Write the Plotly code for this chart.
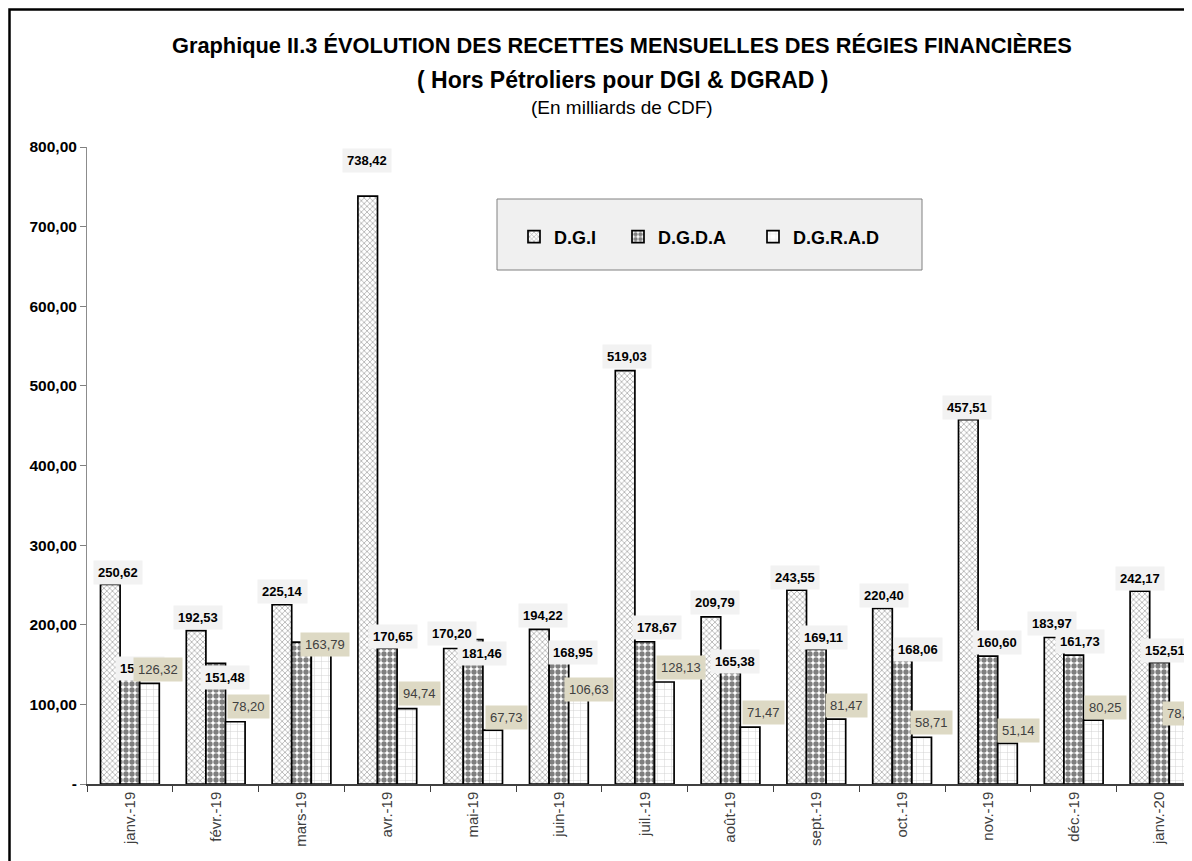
import plotly.graph_objects as go

# ---------------- data ----------------
months = ["janv.-19", "févr.-19", "mars-19", "avr.-19", "mai-19", "juin-19", "juil.-19",
          "août-19", "sept.-19", "oct.-19", "nov.-19", "déc.-19", "janv.-20"]
dgi = [250.62, 192.53, 225.14, 738.42, 170.20, 194.22, 519.03, 209.79, 243.55, 220.40, 457.51, 183.97, 242.17]
dgda = [153.40, 151.48, 178.20, 170.65, 181.46, 168.95, 178.67, 165.38, 169.11, 168.06, 160.60, 161.73, 152.51]
dgrad = [126.32, 78.20, 163.79, 94.74, 67.73, 106.63, 128.13, 71.47, 81.47, 58.71, 51.14, 80.25, 78.42]
series_names = ["D.G.I", "D.G.D.A", "D.G.R.A.D"]
dgda_label_visible = [True, True, False, True, True, True, True, True, True, True, True, True, True]
y_tickvals = [0, 100, 200, 300, 400, 500, 600, 700, 800]
y_ticktext = ["-", "100,00", "200,00", "300,00", "400,00", "500,00", "600,00", "700,00", "800,00"]

# ---------------- label placement (pixel offsets dx, dy-up) ----------------
dgi_off = [(8, 12), (2, 13), (1, 13), (-1, 36), (-2, 15), (4, 14), (2, 14), (4, 14), (-2, 13), (1, 13), (-1, 12), (-2, 14), (0, 13)]
dgda_off = [(10, -7), (9, -14), (0, 0), (6, 12), (9, -14), (14, -3), (12, 14), (4, -9), (7, 12), (16, 1), (9, 14), (6, 14), (5, 12)]
dgrad_off = [(9, 14), (13, 15), (4, 9), (13, 15), (14, 13), (11, 10), (17, 14), (13, 15), (11, 14), (10, 15), (11, 13), (12, 13), (4, 8)]

SANS = "Liberation Sans, Arial, sans-serif"

# page offset of the figure inside the browser window (body margin)
OFF = 8
W, H = 1192 - OFF, 861 - OFF
L, T = 87 - OFF, 147 - OFF
PLOT_BOTTOM = 784 - OFF
R, B = 0, H - PLOT_BOTTOM
PW, PH = W - L - R, PLOT_BOTTOM - T


def px_x(px):  # reference page pixel -> paper x
    return (px - OFF - L) / PW


def px_y(py):  # reference page pixel -> paper y
    return (PLOT_BOTTOM - (py - OFF)) / PH


BARGAP = 0.315
BW = (1 - BARGAP) / 3
CAT_PX = 85.8
X_END = -0.5 + (1192 - 87) / CAT_PX


def fmt(v):
    return f"{v:.2f}".replace(".", ",")


fig = go.Figure()
styles = [
    dict(shape="x", fgcolor="#555555", bgcolor="#ffffff", size=4, solidity=0.35),
    dict(shape=".", fgcolor="#000000", bgcolor="#ffffff", size=6, solidity=0.62),
    dict(shape="+", fgcolor="#9a9a9a", bgcolor="#ffffff", size=7, solidity=0.12),
]
legend_ids = ["legend", "legend2", "legend3"]
for vals, name, st, lg in zip([dgi, dgda, dgrad], series_names, styles, legend_ids):
    fig.add_trace(go.Bar(
        x=months, y=vals, name=name, legend=lg,
        marker=dict(color="#ffffff", line=dict(color="#000000", width=1.7), pattern=st),
        hoverinfo="x+y+name",
    ))

LBL = 13
annotations = []
for i, v in enumerate(dgi):
    dx, dy = dgi_off[i]
    annotations.append(dict(x=i - BW, y=v, xref="x", yref="y", text=fmt(v), showarrow=False,
                            xshift=dx, yshift=dy, xanchor="center", yanchor="middle",
                            bgcolor="#f2f2f2", borderpad=4,
                            font=dict(family=SANS, size=LBL, color="#000000", weight="bold")))
for i, v in enumerate(dgda):
    if not dgda_label_visible[i]:
        continue
    dx, dy = dgda_off[i]
    annotations.append(dict(x=i, y=v, xref="x", yref="y", text=fmt(v), showarrow=False,
                            xshift=dx, yshift=dy, xanchor="center", yanchor="middle",
                            bgcolor="#f2f2f2", borderpad=4,
                            font=dict(family=SANS, size=LBL, color="#000000", weight="bold")))
for i, v in enumerate(dgrad):
    dx, dy = dgrad_off[i]
    annotations.append(dict(x=i + BW, y=v, xref="x", yref="y", text=fmt(v), showarrow=False,
                            xshift=dx, yshift=dy, xanchor="center", yanchor="middle",
                            bgcolor="#ddd9c4", borderpad=4,
                            font=dict(family=SANS, size=LBL, color="#404040")))

# title lines
TITLE_CX = 622
annotations += [
    dict(x=px_x(TITLE_CX), y=px_y(45), xref="paper", yref="paper", showarrow=False,
         xanchor="center", yanchor="middle",
         text="Graphique II.3 ÉVOLUTION DES RECETTES MENSUELLES DES RÉGIES FINANCIÈRES",
         font=dict(family=SANS, size=21.8, color="#000000", weight="bold")),
    dict(x=px_x(TITLE_CX), y=px_y(80), xref="paper", yref="paper", showarrow=False,
         xanchor="center", yanchor="middle",
         text="( Hors Pétroliers pour DGI & DGRAD )",
         font=dict(family=SANS, size=23, color="#000000", weight="bold")),
    dict(x=px_x(TITLE_CX), y=px_y(108), xref="paper", yref="paper", showarrow=False,
         xanchor="center", yanchor="middle",
         text="(En milliards de CDF)",
         font=dict(family=SANS, size=19, color="#000000")),
]

shapes = [
    # outer frame
    dict(type="rect", xref="paper", yref="paper", x0=px_x(9.5), x1=px_x(1400), y0=px_y(1100), y1=px_y(9.5),
         line=dict(color="#000000", width=2.5), fillcolor="rgba(0,0,0,0)", layer="above"),
    # legend box
    dict(type="rect", xref="paper", yref="paper", x0=px_x(497), x1=px_x(922), y0=px_y(270), y1=px_y(199),
         line=dict(color="#808080", width=1), fillcolor="#f0f0f0", layer="below"),
]

legend_text_start = [556, 660, 795]
leg_common = dict(orientation="h", xanchor="left", yanchor="middle", y=px_y(237),
                  bgcolor="rgba(0,0,0,0)", borderwidth=0,
                  font=dict(family=SANS, size=18, color="#000000", weight="bold"))
fig.update_layout(
    legend=dict(x=px_x(legend_text_start[0] - 42), **leg_common),
    legend2=dict(x=px_x(legend_text_start[1] - 42), **leg_common),
    legend3=dict(x=px_x(legend_text_start[2] - 42), **leg_common),
)

fig.update_layout(
    width=W, height=H,
    margin=dict(l=L, r=R, t=T, b=B, pad=0),
    paper_bgcolor="#ffffff", plot_bgcolor="#ffffff",
    barmode="group", bargap=BARGAP, bargroupgap=0,
    showlegend=True,
    annotations=annotations, shapes=shapes,
    xaxis=dict(type="category", range=[-0.5, X_END], tickson="boundaries", ticks="outside",
               ticklen=6, tickcolor="#404040", showline=True, linecolor="#404040", linewidth=1.5,
               tickangle=-90, showgrid=False,
               tickfont=dict(family=SANS, size=15, color="#404040")),
    yaxis=dict(range=[0, 800], tickvals=y_tickvals, ticktext=y_ticktext, ticks="outside",
               ticklen=6, tickcolor="#808080", showline=True, linecolor="#8c8c8c", linewidth=1,
               showgrid=False, zeroline=False,
               tickfont=dict(family=SANS, size=15.5, color="#000000", weight="bold")),
)

fig.write_html("out.html")
